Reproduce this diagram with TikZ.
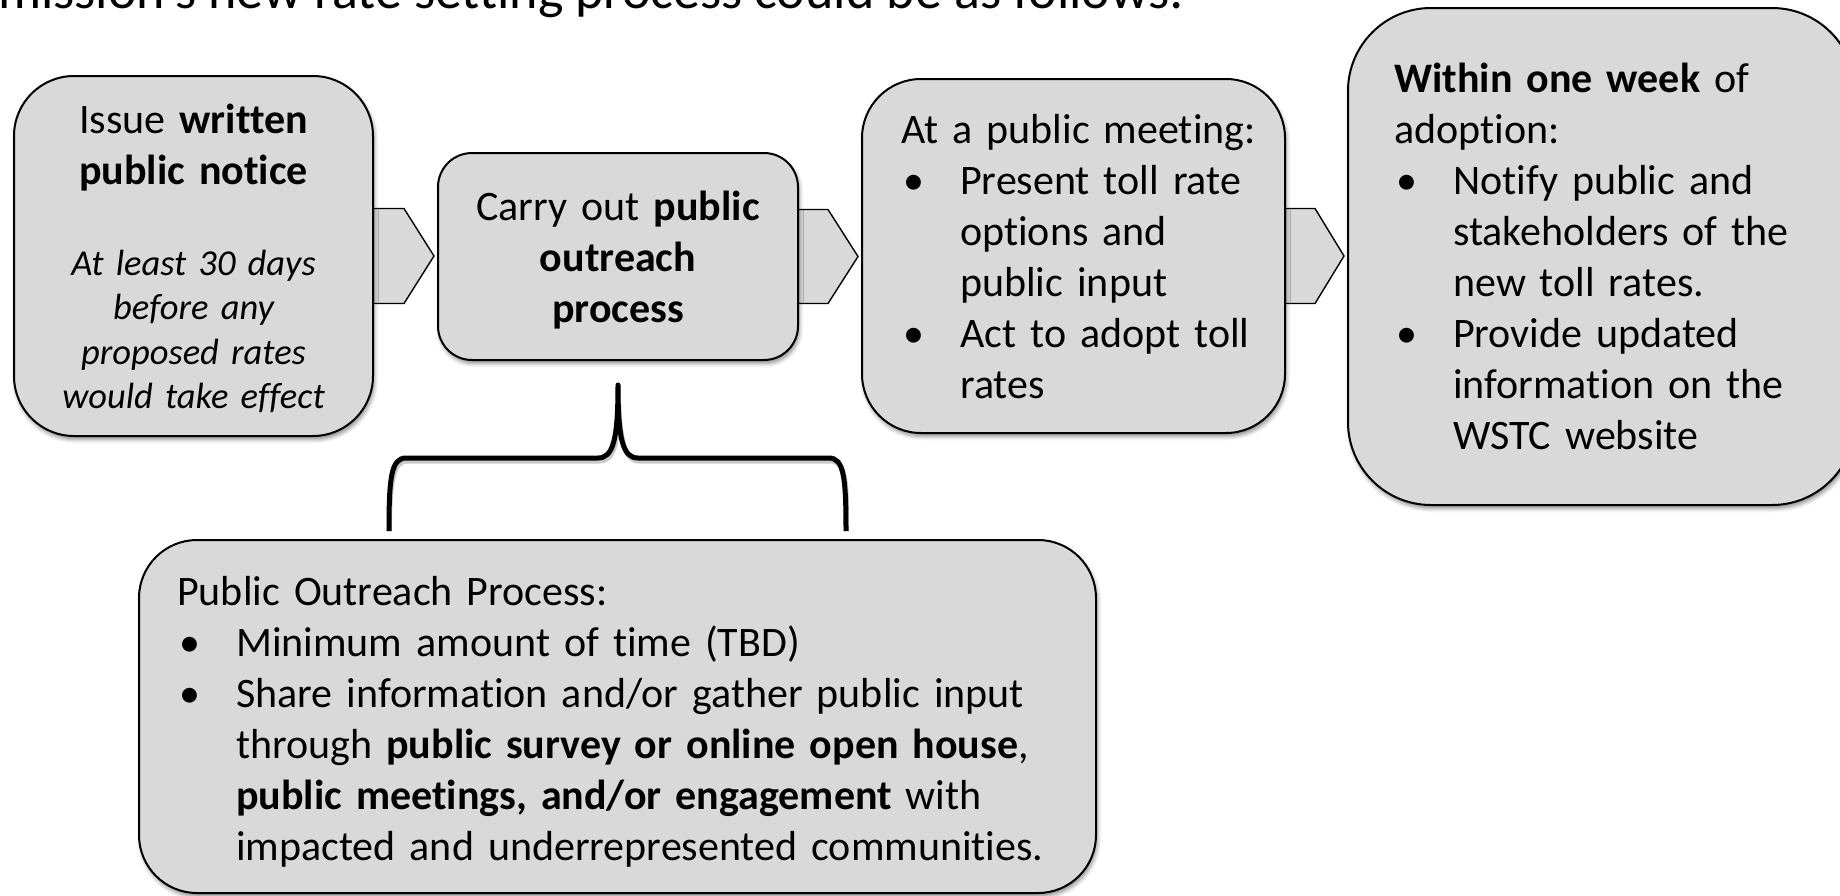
\documentclass[tikz,border=0pt]{standalone}
\usepackage{fontspec}
\setmainfont{Carlito}[Ligatures=NoCommon]
\usetikzlibrary{calc,shadows.blur}
\definecolor{boxgray}{RGB}{217,217,217}
\pgfdeclarelayer{bg}
\pgfsetlayers{bg,main}
\newcommand{\myblt}{\makebox[59pt][l]{\hspace{2pt}\textbullet}}
\newcommand{\myind}{\hspace*{59pt}}
\tikzset{
  box/.style={draw=black, line width=2pt, fill=boxgray, inner sep=0pt,
    blur shadow={shadow xshift=1.5pt, shadow yshift=-3.5pt, shadow blur radius=4pt, shadow opacity=45}},
  chev/.style={draw=black, line width=1.4pt, fill=boxgray, line join=miter},
  txt/.style={inner sep=0pt, font=\fontsize{42}{51}\selectfont},
  itxt/.style={inner sep=0pt, font=\fontsize{36.5}{44.5}\selectfont\itshape},
  bracestyle/.style={draw=black, line width=5pt, line join=round, line cap=butt},
}
\begin{document}
\begin{tikzpicture}[x=1pt,y=-1pt]
\useasboundingbox (0,0) rectangle (1840,895);
\clip (0,0) rectangle (1840,895);

% heading (cut off at the top and left)
\node[anchor=base west, inner sep=0pt, font=\fontsize{54}{60}\selectfont] (head) at (-2,8)
  {mission’s new rate setting process could be as follows:};

% boxes
\node[box, minimum width=359pt, minimum height=360pt, rounded corners=60pt] (b1) at (193.5,256) {};
\node[box, minimum width=360pt, minimum height=207pt, rounded corners=34pt] (b2) at (618,256.5) {};
\node[box, minimum width=423pt, minimum height=354pt, rounded corners=59pt] (b3) at (1073.5,256) {};
\node[box, minimum width=507pt, minimum height=497pt, rounded corners=83pt] (b4) at (1601.5,256.5) {};
\node[box, minimum width=957pt, minimum height=353pt, rounded corners=58pt] (b5) at (617.5,716.5) {};

% chevron connectors
\begin{pgfonlayer}{bg}
\draw[chev] ($(b1.east)+(-8,-47.5)$) -- ++(38,0) -- ++(30,47.5) -- ++(-30,47.5) -- ++(-38,0) -- cycle;
\draw[chev] ($(b2.east)+(-8,-47)$) -- ++(37,0) -- ++(30,47) -- ++(-30,47) -- ++(-37,0) -- cycle;
\draw[chev] ($(b3.east)+(-8,-47.5)$) -- ++(37,0) -- ++(29,47.5) -- ++(-29,47.5) -- ++(-37,0) -- cycle;
\end{pgfonlayer}

% brace from outreach box to details box
\coordinate (btip) at ($(b2.south)+(0,24)$);
\coordinate (bl) at (389,531);
\coordinate (br) at (846,531);
\draw[bracestyle, draw=black!35, opacity=0.6, shift={(1.5,3)}]
  (bl) .. controls (389,478) and (391,458) .. (406,458) -- (598,458)
  .. controls (613,458) and (618,440) .. (btip)
  .. controls (618,440) and (623,458) .. (638,458) -- (829,458)
  .. controls (844,458) and (846,478) .. (br);
\draw[bracestyle]
  (bl) .. controls (389,478) and (391,458) .. (406,458) -- (598,458)
  .. controls (613,458) and (618,440) .. (btip)
  .. controls (618,440) and (623,458) .. (638,458) -- (829,458)
  .. controls (844,458) and (846,478) .. (br);

% texts
\node[txt, anchor=base, text width=359pt, align=center] (t1a) at (193.5,133)
  {Issue \textbf{written}\\\textbf{public notice}};
\node[itxt, anchor=base, text width=359pt, align=center] (t1b) at (193.5,275)
  {At least 30 days\\before any\\proposed rates\\would take effect};
\node[txt, anchor=base, text width=360pt, align=center] (t2) at (618,220)
  {Carry out \textbf{public}\\\textbf{outreach}\\\textbf{process}};
\node[txt, anchor=base west, text width=380pt, align=left] (t3) at (901,143)
  {At a public meeting:\\
   \myblt Present toll rate\\
   \myind options and\\
   \myind public input\\
   \myblt Act to adopt toll\\
   \myind rates};
\node[txt, anchor=base west, text width=440pt, align=left] (t4) at (1394,92)
  {\textbf{Within one week} of\\
   adoption:\\
   \myblt Notify public and\\
   \myind stakeholders of the\\
   \myind new toll rates.\\
   \myblt Provide updated\\
   \myind information on the\\
   \myind WSTC website};
\node[txt, anchor=base west, text width=900pt, align=left] (t5) at (177,605)
  {Public Outreach Process:\\
   \myblt Minimum amount of time (TBD)\\
   \myblt Share information and/or gather public input\\
   \myind through \textbf{public survey or online open house},\\
   \myind \textbf{public meetings, and/or engagement} with\\
   \myind impacted and underrepresented communities.};
\end{tikzpicture}
\end{document}
